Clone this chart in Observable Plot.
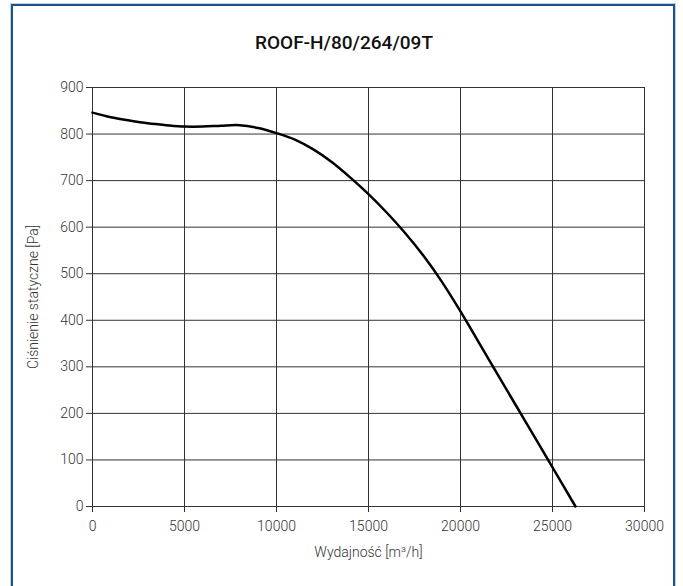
<!DOCTYPE html>
<html>
<head>
<meta charset="utf-8">
<script src="https://cdn.jsdelivr.net/npm/d3@7"></script>
<script src="https://cdn.jsdelivr.net/npm/@observablehq/plot@0.6"></script>
<style>
  html, body { margin: 0; padding: 0; background: #fff; }
  #wrap { position: relative; width: 683px; height: 586px; overflow: hidden; }
  #border { position: absolute; left: 11px; top: 4px; width: 664px; height: 600px;
            border: 2px solid #1f4f8c; box-shadow: 0 0 0 1px #bcd3ea; box-sizing: border-box; }
  #title { position: absolute; left: 0; top: 31px; width: 688px; text-align: center;
           font-family: Roboto, sans-serif; font-size: 19px; font-weight: 500; color: #111; }
  #chart { position: absolute; left: 0; top: 0; }
</style>
</head>
<body>
<div id="wrap">
  <div id="border"></div>
  <div id="title">ROOF-H/80/264/09T</div>
  <div id="chart"></div>
</div>
<script>
const flow = [0, 1000, 2000, 3000, 4000, 5000, 6000, 7000, 8000, 9000, 10000, 11000, 12000, 13000, 14000, 15000, 16000, 17000, 18000, 19000, 20000, 21000, 22000, 23000, 24000, 25000, 26250];
const pressure = [846, 836, 829, 823, 819, 816, 816, 818, 819, 813, 802, 788, 767, 740, 707, 671, 631, 587, 538, 482, 419, 352, 285, 218, 151, 84, 0];
const xTicks = [0, 5000, 10000, 15000, 20000, 25000, 30000];
const yTicks = [0, 100, 200, 300, 400, 500, 600, 700, 800, 900];

const data = flow.map((f, i) => ({x: f, y: pressure[i]}));
const font = 'Roboto, sans-serif';

const chart = Plot.plot({
  width: 683,
  height: 586,
  marginLeft: 92,
  marginRight: 39,
  marginTop: 87,
  marginBottom: 80,
  style: {fontFamily: font, fontSize: "14px", fontWeight: 300, color: "#333", background: "transparent"},
  x: {domain: [0, 30000]},
  y: {domain: [0, 900]},
  marks: [
    Plot.gridX(xTicks, {stroke: "#333", strokeOpacity: 1, strokeWidth: 1}),
    Plot.gridY(yTicks, {stroke: "#333", strokeOpacity: 1, strokeWidth: 1}),
    Plot.axisX({ticks: xTicks, tickFormat: d => String(d), tickSize: 6, tickPadding: 9, stroke: "#333",
      label: "Wydajność [m³/h]", labelAnchor: "center", labelOffset: 50, labelArrow: "none"}),
    Plot.axisY({ticks: yTicks, tickFormat: d => String(d), tickSize: 6, tickPadding: 3, stroke: "#333",
      label: "Ciśnienie statyczne [Pa]", labelAnchor: "center", labelOffset: 64, labelArrow: "none"}),
    Plot.line(data, {x: "x", y: "y", curve: "catmull-rom", stroke: "#000", strokeWidth: 2.5})
  ]
});
document.getElementById("chart").appendChild(chart);
</script>
</body>
</html>
